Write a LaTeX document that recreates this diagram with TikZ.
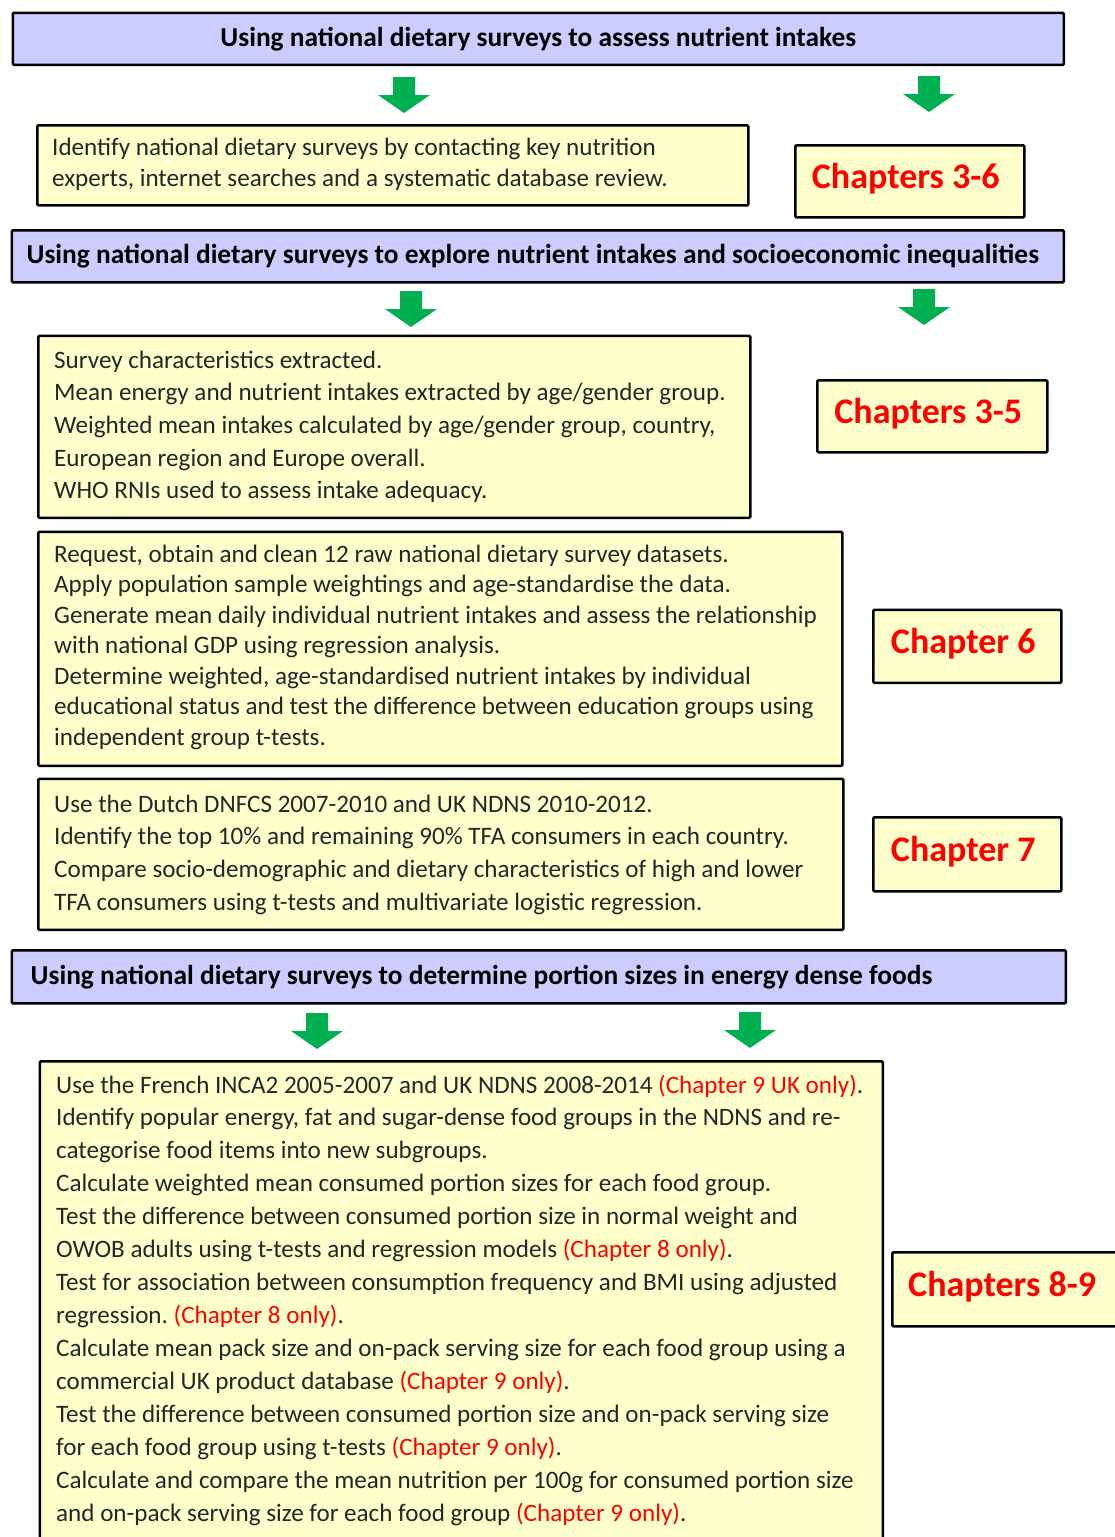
\documentclass[tikz,border=0pt]{standalone}
\usepackage{fontspec}
\setmainfont{Carlito}
\frenchspacing
\definecolor{hdrfill}{HTML}{CCCCFF}
\definecolor{boxfill}{HTML}{FFFFCC}
\definecolor{agreen}{HTML}{00B050}
\definecolor{chred}{HTML}{FF0000}
\definecolor{txt}{HTML}{262626}
\newcommand{\rd}[1]{\textcolor{chred}{#1}}
\tikzset{
  hdr/.style={draw=black, line width=2.6pt, fill=hdrfill, rounded corners=1.2pt, anchor=north west, inner sep=0pt},
  ybox/.style={draw=black, line width=2.6pt, fill=boxfill, rounded corners=1.2pt, anchor=north west, inner sep=0pt},
  hdrtext/.style={inner sep=0pt, font=\fontsize{27.4}{32}\selectfont\bfseries, text=black},
  bodytext/.style={inner sep=0pt, anchor=base west, text=txt},
  chtext/.style={inner sep=0pt, font=\fontsize{36}{42}\selectfont\bfseries, text=chred},
  garrow/.pic={\fill[agreen] (-11,0) -- (11,0) -- (11,18) -- (26,18) -- (0,36) -- (-26,18) -- (-11,18) -- cycle;}
}
\newcommand{\lines}[2]{\parbox[t]{1000pt}{\fontsize{25.1}{#1}\selectfont #2}}
\begin{document}
\begin{tikzpicture}[x=1pt,y=-1pt]
\useasboundingbox[fill=white] (0,0) rectangle (1115,1537);

% ---- section 1
\node[hdr, minimum width=1051pt, minimum height=52pt] (h1) at (11.5,11.5) {};
\node[hdrtext] (h1t) at (h1.center) {Using national dietary surveys to assess nutrient intakes};
\pic (a1) at (404,77) {garrow};
\pic (a2) at (929,76) {garrow};
\node[ybox, minimum width=711pt, minimum height=80pt] (b1) at (36,124) {};
\node[bodytext] (b1t) at (52,155.5) {\lines{30.5}{Identify national dietary surveys by contacting key nutrition\\experts, internet searches and a systematic database review.}};
\node[ybox, minimum width=229pt, minimum height=72pt] (c1) at (794,144) {};
\node[chtext] (c1t) at ([xshift=-4pt,yshift=3pt]c1.center) {Chapters 3-6};

% ---- section 2
\node[hdr, minimum width=1052pt, minimum height=52pt] (h2) at (10.5,229) {};
\node[hdrtext] (h2t) at ([xshift=-5pt]h2.center) {Using national dietary surveys to explore nutrient intakes and socioeconomic inequalities};
\pic (a3) at (411,291) {garrow};
\pic (a4) at (924,289) {garrow};
\node[ybox, minimum width=712pt, minimum height=182pt] (b2) at (37,334.5) {};
\node[bodytext] (b2t) at (54,368) {\lines{32.7}{Survey characteristics extracted.\\Mean energy and nutrient intakes extracted by age/gender group.\\Weighted mean intakes calculated by age/gender group, country,\\European region and Europe overall.\\WHO RNIs used to assess intake adequacy.}};
\node[ybox, minimum width=230pt, minimum height=72pt] (c2) at (816,379) {};
\node[chtext] (c2t) at ([xshift=-4pt,yshift=3pt]c2.center) {Chapters 3-5};

\node[ybox, minimum width=804pt, minimum height=234pt] (b3) at (37,530.5) {};
\node[bodytext] (b3t) at (54,562) {\lines{30.5}{Request, obtain and clean 12 raw national dietary survey datasets.\\Apply population sample weightings and age-standardise the data.\\Generate mean daily individual nutrient intakes and assess the relationship\\with national GDP using regression analysis.\\Determine weighted, age-standardised nutrient intakes by individual\\educational status and test the difference between education groups using\\independent group t-tests.}};
\node[ybox, minimum width=188pt, minimum height=73pt] (c3) at (872,608.5) {};
\node[chtext] (c3t) at ([xshift=-4pt,yshift=3pt]c3.center) {Chapter 6};

\node[ybox, minimum width=805pt, minimum height=151pt] (b4) at (37,777.5) {};
\node[bodytext] (b4t) at (54,812) {\lines{32.7}{Use the Dutch DNFCS 2007-2010 and UK NDNS 2010-2012.\\Identify the top 10\% and remaining 90\% TFA consumers in each country.\\Compare socio-demographic and dietary characteristics of high and lower\\TFA consumers using t-tests and multivariate logistic regression.}};
\node[ybox, minimum width=188pt, minimum height=74pt] (c4) at (872,816) {};
\node[chtext] (c4t) at ([xshift=-4pt,yshift=3pt]c4.center) {Chapter 7};

% ---- section 3
\node[hdr, minimum width=1054pt, minimum height=53pt] (h3) at (10.5,949) {};
\node[hdrtext, anchor=west] (h3t) at ([xshift=20pt]h3.west) {Using national dietary surveys to determine portion sizes in energy dense foods};
\pic (a5) at (317,1013) {garrow};
\pic (a6) at (750,1012) {garrow};
\node[ybox, minimum width=843pt, minimum height=500pt] (b5) at (38.5,1060) {};
\node[bodytext] (b5t) at (56,1093) {\lines{32.95}{Use the French INCA2 2005-2007 and UK NDNS 2008-2014 \rd{(Chapter 9 UK only)}.\\Identify popular energy, fat and sugar-dense food groups in the NDNS and re-\\categorise food items into new subgroups.\\Calculate weighted mean consumed portion sizes for each food group.\\Test the difference between consumed portion size in normal weight and\\OWOB adults using t-tests and regression models \rd{(Chapter 8 only)}.\\Test for association between consumption frequency and BMI using adjusted\\regression. \rd{(Chapter 8 only)}.\\Calculate mean pack size and on-pack serving size for each food group using a\\commercial UK product database \rd{(Chapter 9 only)}.\\Test the difference between consumed portion size and on-pack serving size\\for each food group using t-tests \rd{(Chapter 9 only)}.\\Calculate and compare the mean nutrition per 100g for consumed portion size\\and on-pack serving size for each food group \rd{(Chapter 9 only)}.}};
\node[ybox, minimum width=240pt, minimum height=74pt] (c5) at (891,1251) {};
\node[chtext, anchor=west] (c5t) at ([xshift=17pt,yshift=3pt]c5.west) {Chapters 8-9};
\end{tikzpicture}
\end{document}
